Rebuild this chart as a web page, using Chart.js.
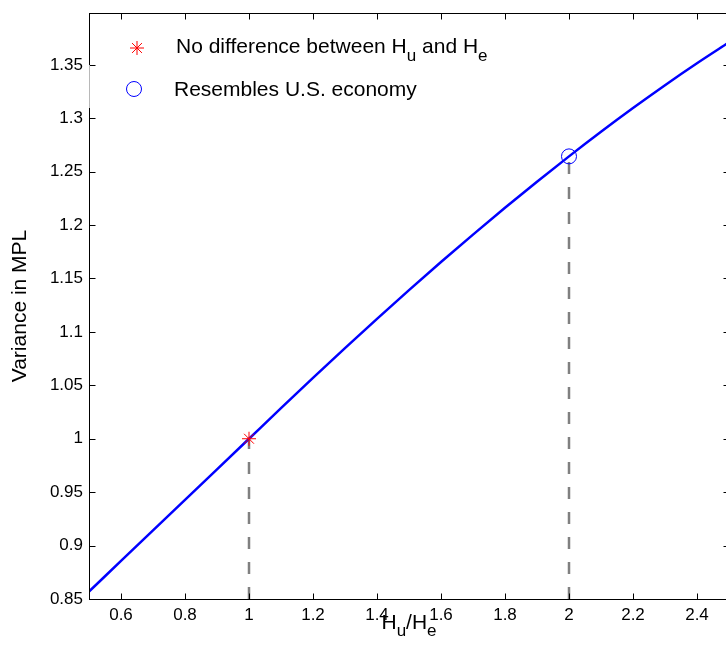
<!DOCTYPE html>
<html>
<head>
<meta charset="utf-8">
<script src="https://cdn.jsdelivr.net/npm/chart.js@4/dist/chart.umd.min.js"></script>
<style>
  html, body { margin: 0; padding: 0; background: #fff; overflow: hidden; }
  #wrap { width: 726px; height: 662px; overflow: hidden; }
</style>
</head>
<body>
<div id="wrap"><canvas id="chart" width="740" height="662"></canvas></div>
<script>
// curve
const ratioValues = [0.5, 0.6, 0.7, 0.8, 0.9, 1.0, 1.1, 1.2, 1.3, 1.4, 1.5,
                     1.6, 1.7, 1.8, 1.9, 2.0, 2.1, 2.2, 2.3, 2.4, 2.5];
const mplVariance = [0.857, 0.8856, 0.9142, 0.9428, 0.9714, 1.0, 1.0286, 1.0569, 1.0848, 1.1122, 1.1391,
                     1.1654, 1.1911, 1.2162, 1.2406, 1.2643, 1.2873, 1.3095, 1.3309, 1.3514, 1.371];

// the two marked points
const markerRatio = [1, 2];
const markerVariance = [1.0, 1.2643];

const xTicks = [0.6, 0.8, 1, 1.2, 1.4, 1.6, 1.8, 2, 2.2, 2.4];
const yTicks = [0.85, 0.9, 0.95, 1, 1.05, 1.1, 1.15, 1.2, 1.25, 1.3, 1.35];
const xRange = [0.5, 2.5];
const yRange = [0.85, 1.3985];

const FONT = "'Liberation Sans', Arial, Helvetica, sans-serif";

const curve = ratioValues.map((x, i) => ({ x: x, y: mplVariance[i] }));

function dropLine(i) {
  return [{ x: markerRatio[i], y: yRange[0] }, { x: markerRatio[i], y: markerVariance[i] }];
}

// frame, inward ticks, legend and axis titles drawn like matlab does
const matlabAxes = {
  id: "matlabAxes",
  afterDraw(chart) {
    const ctx = chart.ctx;
    const a = chart.chartArea;
    const xs = chart.scales.x;
    const ys = chart.scales.y;
    const L = Math.round(a.left) + 0.5, R = Math.round(a.right) + 0.5;
    const T = Math.round(a.top) + 0.5, B = Math.round(a.bottom) + 0.5;

    ctx.save();
    ctx.strokeStyle = "#000";
    ctx.lineWidth = 1;
    ctx.strokeRect(L, T, R - L, B - T);

    ctx.beginPath();
    xTicks.forEach((v) => {
      const px = Math.round(xs.getPixelForValue(v)) + 0.5;
      ctx.moveTo(px, B); ctx.lineTo(px, B - 6);
      ctx.moveTo(px, T); ctx.lineTo(px, T + 6);
    });
    yTicks.forEach((v) => {
      const py = Math.round(ys.getPixelForValue(v)) + 0.5;
      ctx.moveTo(L, py); ctx.lineTo(L + 6, py);
      ctx.moveTo(R, py); ctx.lineTo(R - 6, py);
    });
    ctx.stroke();

    // legend box sits over part of the left axis
    ctx.strokeStyle = "#b8b8b8";
    ctx.beginPath();
    ctx.moveTo(L, 65); ctx.lineTo(L, 108);
    ctx.stroke();

    // legend
    const h = Chart.helpers;
    ctx.strokeStyle = "#ff0000";
    h.drawPoint(ctx, { pointStyle: "star", radius: 7, rotation: 0, borderWidth: 1 }, 137, 48);
    ctx.strokeStyle = "#0000ff";
    ctx.beginPath();
    ctx.arc(134, 89, 7.5, 0, Math.PI * 2);
    ctx.stroke();

    ctx.fillStyle = "#000";
    ctx.textBaseline = "alphabetic";
    ctx.textAlign = "left";
    drawSub(ctx, [["No difference between H", 0], ["u", 1], [" and H", 0], ["e", 1]], 176, 53, 21, 17, 8);
    ctx.font = "21px " + FONT;
    ctx.fillText("Resembles U.S. economy", 174, 96);

    // x title
    const parts = [["H", 0], ["u", 1], ["/H", 0], ["e", 1]];
    const w = measureSub(ctx, parts, 21, 17);
    drawSub(ctx, parts, (a.left + a.right) / 2 - w / 2, 629, 21, 17, 7);

    // y title
    ctx.save();
    ctx.translate(20, (a.top + a.bottom) / 2);
    ctx.rotate(-Math.PI / 2);
    ctx.font = "21px " + FONT;
    ctx.textAlign = "center";
    ctx.textBaseline = "middle";
    ctx.fillText("Variance in MPL", 0, 0);
    ctx.restore();

    ctx.restore();
  }
};

function measureSub(ctx, parts, big, small) {
  let w = 0;
  parts.forEach(([t, sub]) => {
    ctx.font = (sub ? small : big) + "px " + FONT;
    w += ctx.measureText(t).width;
  });
  return w;
}

function drawSub(ctx, parts, x, y, big, small, drop) {
  parts.forEach(([t, sub]) => {
    ctx.font = (sub ? small : big) + "px " + FONT;
    ctx.fillText(t, x, sub ? y + drop : y);
    x += ctx.measureText(t).width;
  });
}

const ctx = document.getElementById("chart").getContext("2d");

const chart = new Chart(ctx, {
  type: "line",
  data: {
    datasets: [
      {
        label: "No difference between Hu and He",
        type: "scatter",
        data: [{ x: markerRatio[0], y: markerVariance[0] }],
        pointStyle: "star",
        pointRadius: 7,
        borderColor: "#ff0000",
        borderWidth: 1,
      },
      {
        label: "Resembles U.S. economy",
        type: "scatter",
        data: [{ x: markerRatio[1], y: markerVariance[1] }],
        pointStyle: "circle",
        pointRadius: 7.5,
        borderColor: "#0000ff",
        backgroundColor: "rgba(0,0,0,0)",
        borderWidth: 1,
      },
      {
        label: "curve",
        data: curve,
        borderColor: "#0000ff",
        borderWidth: 2.5,
        pointRadius: 0,
        cubicInterpolationMode: "monotone",
        fill: false,
      },
      {
        label: "drop1",
        data: dropLine(0),
        borderColor: "#808080",
        borderWidth: 2.5,
        borderDash: [12, 13],
        pointRadius: 0,
      },
      {
        label: "drop2",
        data: dropLine(1),
        borderColor: "#808080",
        borderWidth: 2.5,
        borderDash: [12, 13],
        pointRadius: 0,
      },
    ],
  },
  options: {
    responsive: false,
    animation: false,
    layout: { padding: { top: 13, right: 11, left: 0, bottom: 0 } },
    plugins: { legend: { display: false }, tooltip: { enabled: false } },
    scales: {
      x: {
        type: "linear",
        min: xRange[0],
        max: xRange[1],
        afterBuildTicks: (s) => { s.ticks = xTicks.map((v) => ({ value: v })); },
        afterFit: (s) => { s.height = 63; s.paddingLeft = 0; s.paddingRight = 0; },
        grid: { display: false, drawTicks: false },
        border: { display: false },
        ticks: {
          padding: 6,
          color: "#000",
          font: { family: FONT, size: 17 },
          callback: (v) => String(+Number(v).toFixed(2)),
        },
      },
      y: {
        type: "linear",
        min: yRange[0],
        max: yRange[1],
        afterBuildTicks: (s) => { s.ticks = yTicks.map((v) => ({ value: v })); },
        afterFit: (s) => { s.width = 89; s.paddingTop = 0; s.paddingBottom = 0; },
        grid: { display: false, drawTicks: false },
        border: { display: false },
        ticks: {
          padding: 6,
          color: "#000",
          font: { family: FONT, size: 17 },
          callback: (v) => String(+Number(v).toFixed(2)),
        },
      },
    },
  },
  plugins: [matlabAxes],
});
</script>
</body>
</html>
